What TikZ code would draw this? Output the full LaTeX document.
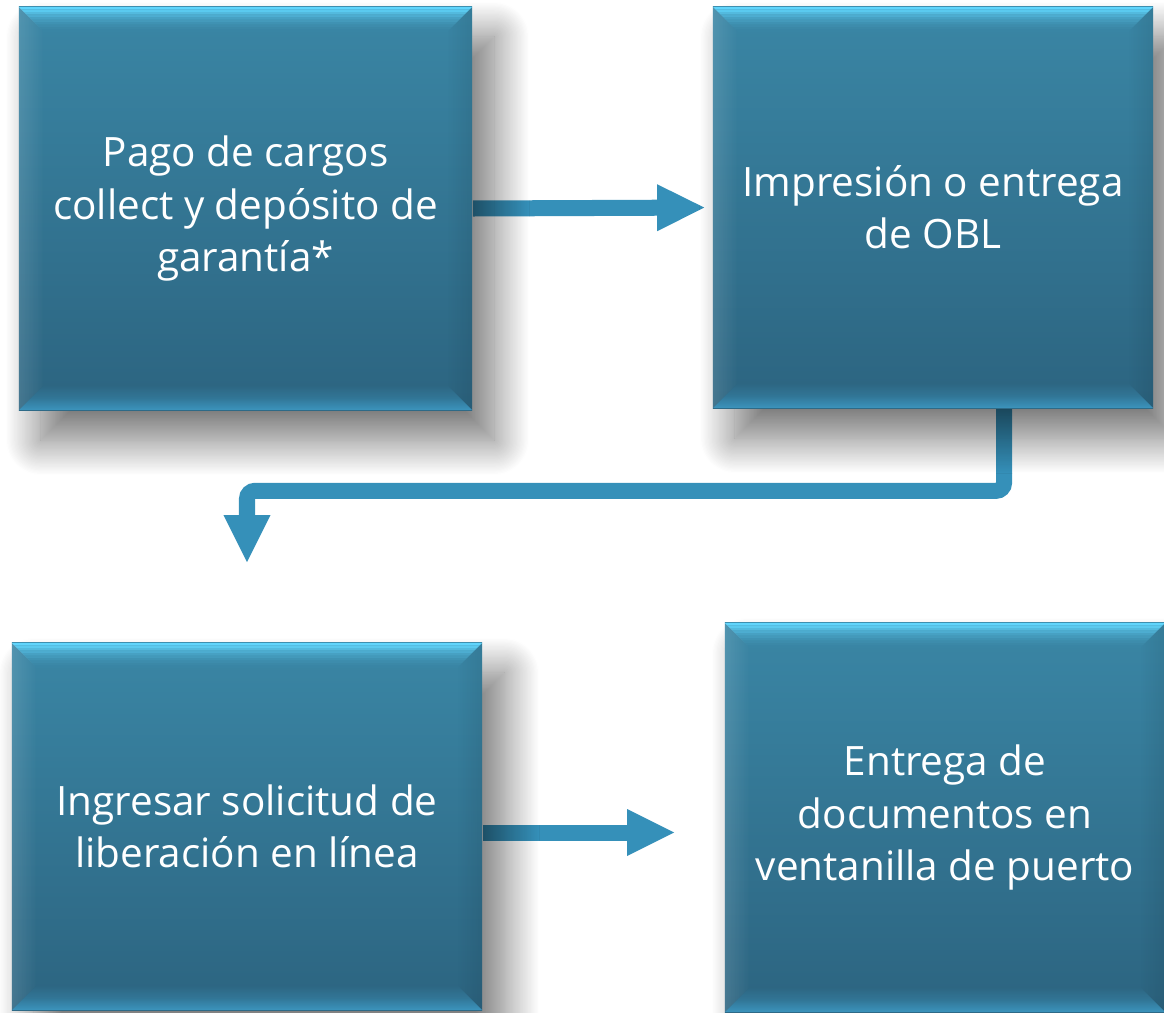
\documentclass[tikz,border=0pt]{standalone}
\usepackage{fontspec}
\setmainfont{Open Sans}
\usetikzlibrary{arrows.meta,shadows.blur,backgrounds,fadings}

\definecolor{cajaArriba}{HTML}{3A86A5}
\definecolor{cajaAbajo}{HTML}{2C6480}
\definecolor{biselClaro}{HTML}{62D8FF}
\definecolor{biselBajo}{HTML}{3C95BE}
\definecolor{flechaAzul}{HTML}{3590B9}

\tikzfading[name=biselAbajo, top color=transparent!100, bottom color=transparent!0, middle color=transparent!65]
\tikzfading[name=biselIzquierda, left color=transparent!0, right color=transparent!100]
\tikzfading[name=biselDerecha, left color=transparent!100, right color=transparent!0]

\newcommand{\bv}{0.25cm}

\tikzset{
  paso/.style={rectangle, inner sep=0pt, align=center, text=white,
    top color=cajaArriba, bottom color=cajaAbajo,
    font=\fontsize{11.5}{14.8}\selectfont,
    blur shadow={shadow xshift=0.22cm, shadow yshift=-0.3cm,
      shadow blur radius=0.35cm, shadow blur steps=30, shadow opacity=55},
    path picture={
      % bisel superior, en franjas que se apagan hacia abajo
      \foreach \i/\o [evaluate=\i as \j using \i+1] in
          {0/0.97,1/0.82,2/0.64,3/0.48,4/0.35,5/0.25,6/0.17,7/0.10,8/0.05,9/0.02}
        \fill[biselClaro, opacity=\o]
          ([xshift=\i*0.025cm,yshift=-\i*0.025cm]path picture bounding box.north west)
          -- ([xshift=-\i*0.025cm,yshift=-\i*0.025cm]path picture bounding box.north east)
          -- ([xshift=-\j*0.025cm,yshift=-\j*0.025cm]path picture bounding box.north east)
          -- ([xshift=\j*0.025cm,yshift=-\j*0.025cm]path picture bounding box.north west) -- cycle;
      % bisel inferior
      \fill[biselBajo, path fading=biselAbajo]
        (path picture bounding box.south west) -- (path picture bounding box.south east)
        -- ([xshift=-\bv,yshift=\bv]path picture bounding box.south east)
        -- ([xshift=\bv,yshift=\bv]path picture bounding box.south west) -- cycle;
      % biseles laterales
      \fill[white, opacity=0.12, path fading=biselIzquierda]
        (path picture bounding box.north west) -- ([xshift=\bv,yshift=-\bv]path picture bounding box.north west)
        -- ([xshift=\bv,yshift=\bv]path picture bounding box.south west)
        -- (path picture bounding box.south west) -- cycle;
      \fill[black, opacity=0.08, path fading=biselDerecha]
        (path picture bounding box.north east) -- ([xshift=-\bv,yshift=-\bv]path picture bounding box.north east)
        -- ([xshift=-\bv,yshift=\bv]path picture bounding box.south east)
        -- (path picture bounding box.south east) -- cycle;
    }},
  flecha/.style={draw=flechaAzul, line width=0.16cm,
    -{Triangle[length=0.47cm,width=0.47cm,line width=0pt]}}
}

\begin{document}
\begin{tikzpicture}[x=0.01cm, y=0.01cm]
    \useasboundingbox (0,0) rectangle (1164,-1012);
    \node[paso, minimum width=4.53cm, minimum height=4.03cm] (pago) at (245.5,-208.5)
        {Pago de cargos\\collect y depósito de\\garantía*};
    \node[paso, minimum width=4.40cm, minimum height=4.01cm] (impresion) at (933,-207.5)
        {Impresión o entrega\\de OBL};
    \node[paso, minimum width=4.70cm, minimum height=3.67cm] (ingresar) at (247,-826.5)
        {Ingresar solicitud de\\liberación en línea};
    \node[paso, minimum width=4.40cm, minimum height=3.89cm] (entrega) at (945,-817.5)
        {Entrega de\\documentos en\\ventanilla de puerto};
    % conectores detras de las cajas
    \begin{scope}[on background layer]
        \draw[flecha, shorten >=0.08cm] (pago.east) -- (impresion.west);
        \draw[flecha, rounded corners=0.08cm, shorten >=0.8cm]
            ([xshift=0.71cm]impresion.south) -- ++(0,-82) -| (ingresar.north);
        \draw[flecha, shorten >=0.5cm] ([yshift=-0.06cm]ingresar.east)
            -- ([yshift=-0.06cm]ingresar.east -| entrega.west);
    \end{scope}
\end{tikzpicture}
\end{document}
